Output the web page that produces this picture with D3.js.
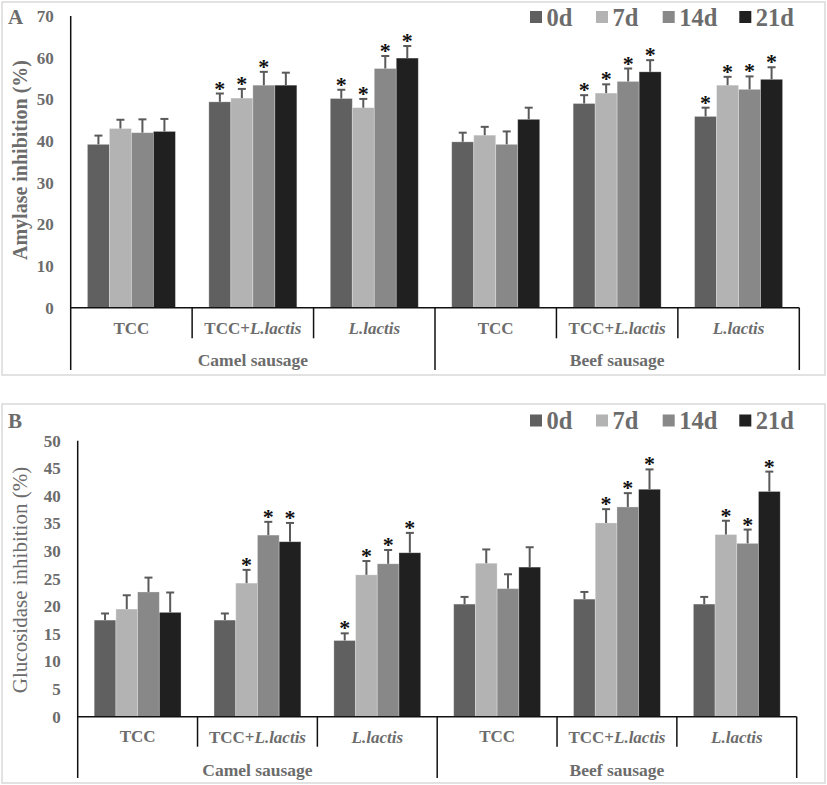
<!DOCTYPE html>
<html>
<head>
<meta charset="utf-8">
<script src="https://cdn.jsdelivr.net/npm/d3@7"></script>
<style>
  html, body { margin: 0; padding: 0; background: #fff; }
  svg { display: block; }
  text { font-family: "Liberation Serif", "Times New Roman", serif; }
</style>
</head>
<body>
<svg id="chart" width="827" height="785"></svg>
<script>
// ---------- DATA ----------
const groups = ["Camel sausage", "Beef sausage"];
const treatments = ["TCC", "TCC+L.lactis", "L.lactis"];
const series = ["0d", "7d", "14d", "21d"];
const seriesColors = ["#606060", "#b3b3b3", "#888888", "#202020"];

// Amylase inhibition (%) — per series, 6 categories (Camel: TCC, TCC+L, L ; Beef: TCC, TCC+L, L)
const amylase0d  = [39.2, 49.4, 50.2, 39.8, 49.0, 45.9];
const amylase7d  = [43.0, 50.3, 48.0, 41.4, 51.5, 53.4];
const amylase14d = [42.0, 53.4, 57.4, 39.2, 54.3, 52.4];
const amylase21d = [42.3, 53.4, 59.9, 45.2, 56.6, 54.8];
const amylaseErr0d  = [2.1, 2.0, 2.1, 2.2, 2.0, 2.1];
const amylaseErr7d  = [2.1, 2.2, 2.1, 2.0, 2.1, 2.0];
const amylaseErr14d = [3.2, 3.2, 3.0, 3.1, 3.1, 3.1];
const amylaseErr21d = [3.0, 3.0, 2.9, 2.8, 2.8, 2.9];
const amylaseSig0d  = [0, 1, 1, 0, 1, 1];
const amylaseSig7d  = [0, 1, 1, 0, 1, 1];
const amylaseSig14d = [0, 1, 1, 0, 1, 1];
const amylaseSig21d = [0, 0, 1, 0, 1, 1];
const amylaseTicks = [0, 10, 20, 30, 40, 50, 60, 70];

// Glucosidase inhibition (%)
const glucosidase0d  = [17.5, 17.5, 13.8, 20.4, 21.3, 20.4];
const glucosidase7d  = [19.5, 24.2, 25.7, 27.8, 35.1, 33.0];
const glucosidase14d = [22.6, 32.9, 27.7, 23.2, 38.0, 31.4];
const glucosidase21d = [18.9, 31.7, 29.7, 27.1, 41.2, 40.8];
const glucosidaseErr0d  = [1.2, 1.2, 1.3, 1.3, 1.3, 1.3];
const glucosidaseErr7d  = [2.5, 2.4, 2.5, 2.5, 2.5, 2.5];
const glucosidaseErr14d = [2.6, 2.4, 2.5, 2.6, 2.5, 2.5];
const glucosidaseErr21d = [3.6, 3.4, 3.6, 3.6, 3.6, 3.6];
const glucosidaseSig0d  = [0, 0, 1, 0, 0, 0];
const glucosidaseSig7d  = [0, 1, 1, 0, 1, 1];
const glucosidaseSig14d = [0, 1, 1, 0, 1, 1];
const glucosidaseSig21d = [0, 1, 1, 0, 1, 1];
const glucosidaseTicks = [0, 5, 10, 15, 20, 25, 30, 35, 40, 45, 50];

// ---------- DRAW ----------
const svg = d3.select("#chart");
const textGray = "#6c6c6c";
const categories = [];
groups.forEach((g, gi) => treatments.forEach((t, ti) => categories.push({ id: gi + "|" + ti, group: g, treatment: t })));

function drawPanel(cfg) {
  const g = svg.append("g");
  // frame
  g.append("rect").attr("x", cfg.frame[0]).attr("y", cfg.frame[1])
    .attr("width", cfg.frame[2] - cfg.frame[0]).attr("height", cfg.frame[3] - cfg.frame[1])
    .attr("fill", "none").attr("stroke", "#d9d9d9").attr("stroke-width", 1.5);

  const y = d3.scaleLinear().domain([0, cfg.ticks[cfg.ticks.length - 1]]).range([cfg.zero, cfg.top]);
  const x0 = d3.scaleBand().domain(categories.map(c => c.id)).range([cfg.left, cfg.right]).paddingInner(0).paddingOuter(0);
  const x1 = d3.scaleBand().domain(series).range([0, x0.bandwidth()]).paddingInner(0).paddingOuter(0.76);

  // y axis labels
  const yAxis = d3.axisLeft(y).tickValues(cfg.ticks).tickSize(0).tickPadding(17).tickFormat(d3.format("d"));
  const ya = g.append("g").attr("transform", `translate(${cfg.left},0)`).call(yAxis);
  ya.select(".domain").remove();
  ya.selectAll("text").attr("font-family", "Liberation Serif, serif").attr("font-size", 17)
    .attr("font-weight", "bold").attr("fill", textGray);

  // bars
  series.forEach((s, si) => {
    const vals = cfg.values[si], errs = cfg.errs[si], sig = cfg.sig[si];
    categories.forEach((c, ci) => {
      const bx = x0(c.id) + x1(s);
      const bw = x1.bandwidth();
      g.append("rect").attr("x", bx).attr("y", y(vals[ci])).attr("width", bw)
        .attr("height", y(0) - y(vals[ci])).attr("fill", seriesColors[si])
        .attr("stroke", "rgba(255,255,255,0.35)").attr("stroke-width", 0.8);
      const cx = bx + bw / 2;
      const top = y(vals[ci] + errs[ci]);
      g.append("line").attr("x1", cx).attr("x2", cx).attr("y1", y(vals[ci])).attr("y2", top)
        .attr("stroke", "#5a5a5a").attr("stroke-width", 2);
      g.append("line").attr("x1", cx - 4).attr("x2", cx + 4).attr("y1", top).attr("y2", top)
        .attr("stroke", "#5a5a5a").attr("stroke-width", 2);
      if (sig[ci]) {
        g.append("text").attr("x", cx).attr("y", top + 2).attr("text-anchor", "middle")
          .attr("font-size", 22).attr("font-weight", "bold").attr("fill", "#111").text("*");
      }
    });
  });

  // axis lines
  const ax = "#111";
  g.append("line").attr("x1", cfg.left).attr("x2", cfg.left).attr("y1", cfg.top).attr("y2", cfg.groupBottom)
    .attr("stroke", ax).attr("stroke-width", 1.5);
  g.append("line").attr("x1", cfg.left).attr("x2", cfg.right).attr("y1", cfg.zero).attr("y2", cfg.zero)
    .attr("stroke", ax).attr("stroke-width", 1.5);
  categories.forEach((c, ci) => {
    const xr = x0(c.id) + x0.bandwidth();
    const isGroupEnd = (ci % treatments.length) === treatments.length - 1;
    g.append("line").attr("x1", xr).attr("x2", xr).attr("y1", cfg.zero)
      .attr("y2", isGroupEnd ? cfg.groupBottom : cfg.catBottom).attr("stroke", ax).attr("stroke-width", 1.5);
    // category label
    const t = g.append("text").attr("x", x0(c.id) + x0.bandwidth() / 2).attr("y", cfg.catLabelY)
      .attr("text-anchor", "middle").attr("dominant-baseline", "central")
      .attr("font-size", 17).attr("font-weight", "bold").attr("fill", textGray);
    const idx = c.treatment.indexOf("L.lactis");
    if (idx > 0) {
      t.append("tspan").text(c.treatment.slice(0, idx));
      t.append("tspan").attr("font-style", "italic").text("L.lactis");
    } else if (idx === 0) {
      t.append("tspan").attr("font-style", "italic").text("L.lactis");
    } else {
      t.text(c.treatment);
    }
  });
  groups.forEach((gr, gi) => {
    const first = x0(categories[gi * 3].id);
    const last = x0(categories[gi * 3 + 2].id) + x0.bandwidth();
    g.append("text").attr("x", (first + last) / 2).attr("y", cfg.groupLabelY)
      .attr("text-anchor", "middle").attr("dominant-baseline", "central")
      .attr("font-size", 17.5).attr("font-weight", "bold").attr("fill", textGray).text(gr);
  });

  // y title
  g.append("text").attr("transform", `translate(${cfg.titleX},${cfg.titleY}) rotate(-90)`)
    .attr("text-anchor", "middle").attr("dominant-baseline", "central")
    .attr("font-size", cfg.titleSize).attr("font-weight", cfg.titleWeight).attr("fill", textGray).text(cfg.title);

  // panel letter
  g.append("text").attr("x", 8).attr("y", cfg.legendY).attr("dominant-baseline", "central")
    .attr("font-size", 21).attr("font-weight", "bold").attr("fill", textGray).text(cfg.letter);

  // legend
  const legendX = [530, 596, 662.7, 739.3];
  series.forEach((s, si) => {
    g.append("rect").attr("x", legendX[si]).attr("y", cfg.legendY - 6).attr("width", 12).attr("height", 12)
      .attr("fill", seriesColors[si]);
    g.append("text").attr("x", legendX[si] + 16.5).attr("y", cfg.legendY).attr("dominant-baseline", "central")
      .attr("font-size", 24.5).attr("font-weight", "bold").attr("fill", textGray).text(s);
  });
}

drawPanel({
  frame: [2, 2, 825, 375],
  top: 16, zero: 307.7, left: 70.7, right: 799.3,
  catBottom: 338.3, groupBottom: 370, catLabelY: 328, groupLabelY: 360,
  legendY: 17, letter: "A",
  titleX: 20, titleY: 160, title: "Amylase inhibition (%)", titleSize: 20, titleWeight: "bold",
  ticks: amylaseTicks,
  values: [amylase0d, amylase7d, amylase14d, amylase21d],
  errs: [amylaseErr0d, amylaseErr7d, amylaseErr14d, amylaseErr21d],
  sig: [amylaseSig0d, amylaseSig7d, amylaseSig14d, amylaseSig21d]
});

drawPanel({
  frame: [2, 404, 825, 783],
  top: 440.7, zero: 716.7, left: 77.7, right: 796.7,
  catBottom: 746.7, groupBottom: 778, catLabelY: 736.7, groupLabelY: 770,
  legendY: 420.5, letter: "B",
  titleX: 20, titleY: 580, title: "Glucosidase inhibition (%)", titleSize: 21, titleWeight: "normal",
  ticks: glucosidaseTicks,
  values: [glucosidase0d, glucosidase7d, glucosidase14d, glucosidase21d],
  errs: [glucosidaseErr0d, glucosidaseErr7d, glucosidaseErr14d, glucosidaseErr21d],
  sig: [glucosidaseSig0d, glucosidaseSig7d, glucosidaseSig14d, glucosidaseSig21d]
});
</script>
</body>
</html>
